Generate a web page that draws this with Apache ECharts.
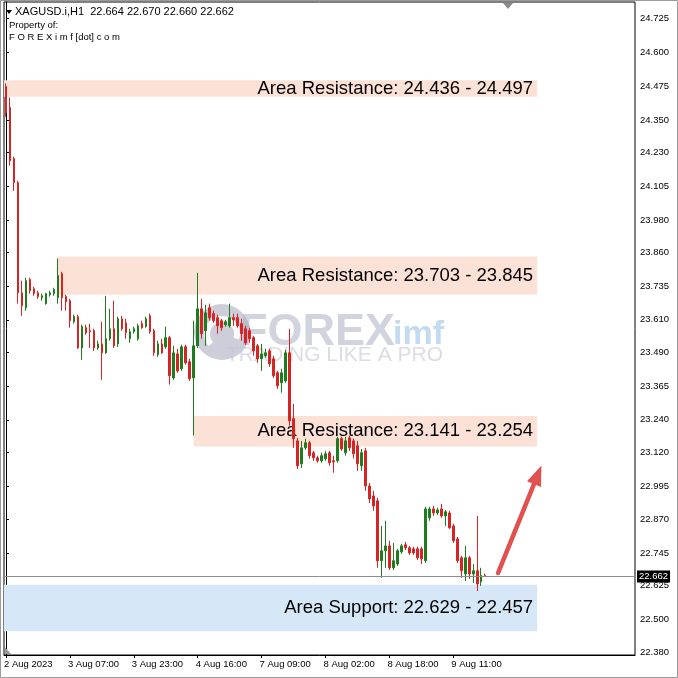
<!DOCTYPE html>
<html>
<head>
<meta charset="utf-8">
<script src="https://cdn.jsdelivr.net/npm/echarts@6/dist/echarts.min.js"></script>
<style>
html,body{margin:0;padding:0;background:#fff;}
#chart{width:678px;height:678px;}
</style>
</head>
<body>
<div id="chart"></div>
<script>
// ---- data (H1 candles XAGUSD) ----
const openVals = [
24.474,24.396,24.207,24.118,23.710,23.655,23.759,23.725,23.710,23.692,
23.670,23.703,23.707,23.692,23.781,23.696,23.681,23.603,23.622,23.506,
23.581,23.570,23.570,23.506,23.521,23.488,23.540,23.577,23.521,23.614,
23.599,23.540,23.566,23.540,23.596,23.585,23.625,23.570,23.481,23.521,
23.510,23.544,23.395,23.484,23.429,23.510,23.455,23.395,23.514,23.651,
23.570,23.655,23.633,23.618,23.607,23.592,23.588,23.618,23.618,23.596,
23.577,23.570,23.544,23.514,23.466,23.477,23.495,23.466,23.414,23.377,
23.384,23.488,23.244,23.162,23.077,23.136,23.155,23.118,23.099,23.088,
23.096,23.118,23.088,23.088,23.170,23.118,23.173,23.162,23.144,23.070,
23.125,22.995,22.958,22.940,22.718,22.755,22.773,22.692,22.706,22.751,
22.777,22.766,22.762,22.762,22.762,22.718,22.877,22.910,22.895,22.910,
22.884,22.895,22.847,22.799,22.729,22.669,22.729,22.669,22.681,22.640,
22.664];
const closeVals = [
24.377,24.199,24.118,23.710,23.662,23.755,23.718,23.707,23.696,23.699,
23.707,23.710,23.722,23.774,23.692,23.677,23.607,23.622,23.506,23.585,
23.562,23.566,23.506,23.521,23.488,23.540,23.577,23.514,23.614,23.577,
23.562,23.566,23.577,23.588,23.581,23.614,23.566,23.488,23.521,23.488,
23.544,23.403,23.488,23.421,23.510,23.451,23.392,23.514,23.651,23.559,
23.636,23.618,23.607,23.588,23.581,23.603,23.618,23.610,23.588,23.559,
23.525,23.540,23.495,23.466,23.484,23.488,23.447,23.403,23.366,23.414,
23.488,23.236,23.170,23.070,23.136,23.155,23.107,23.099,23.088,23.107,
23.114,23.081,23.084,23.170,23.132,23.162,23.136,23.114,23.077,23.118,
22.995,22.947,22.921,22.718,22.755,22.773,22.692,22.718,22.755,22.773,
22.766,22.747,22.747,22.729,22.725,22.910,22.910,22.895,22.906,22.884,
22.899,22.840,22.792,22.718,22.681,22.729,22.669,22.681,22.632,22.664,
22.662];
const lowVals = [
24.362,24.181,24.088,23.670,23.625,23.644,23.707,23.699,23.688,23.681,
23.666,23.696,23.699,23.670,23.644,23.644,23.581,23.596,23.503,23.462,
23.555,23.506,23.495,23.499,23.388,23.484,23.533,23.506,23.510,23.570,
23.540,23.525,23.559,23.533,23.577,23.581,23.559,23.477,23.473,23.484,
23.503,23.370,23.388,23.414,23.421,23.444,23.384,23.181,23.506,23.540,
23.514,23.607,23.599,23.559,23.570,23.585,23.581,23.588,23.581,23.533,
23.518,23.525,23.477,23.451,23.421,23.470,23.436,23.395,23.355,23.340,
23.377,23.218,23.136,23.058,23.062,23.129,23.096,23.088,23.081,23.081,
23.088,23.070,23.044,23.081,23.125,23.107,23.125,23.096,23.051,23.051,
22.977,22.932,22.903,22.692,22.655,22.692,22.684,22.684,22.699,22.744,
22.758,22.740,22.740,22.721,22.706,22.710,22.866,22.884,22.888,22.877,
22.847,22.836,22.784,22.710,22.655,22.643,22.651,22.636,22.606,22.625,
22.660];
const highVals = [
24.485,24.433,24.214,24.125,23.755,23.766,23.766,23.733,23.718,23.707,
23.710,23.718,23.729,23.837,23.788,23.703,23.688,23.629,23.629,23.592,
23.592,23.596,23.577,23.533,23.603,23.699,23.651,23.681,23.622,23.625,
23.614,23.577,23.585,23.596,23.607,23.622,23.633,23.577,23.533,23.540,
23.585,23.551,23.514,23.503,23.518,23.518,23.466,23.607,23.784,23.688,
23.666,23.670,23.644,23.629,23.614,23.610,23.670,23.633,23.633,23.614,
23.588,23.581,23.551,23.521,23.521,23.503,23.503,23.477,23.421,23.429,
23.499,23.577,23.299,23.173,23.162,23.170,23.162,23.125,23.107,23.118,
23.125,23.125,23.107,23.177,23.177,23.177,23.181,23.170,23.162,23.132,
23.136,23.006,22.977,22.951,22.847,22.866,22.792,22.784,22.762,22.781,
22.788,22.773,22.770,22.770,22.770,22.918,22.918,22.921,22.914,22.929,
22.906,22.903,22.855,22.806,22.736,22.773,22.736,22.706,22.884,22.692,
22.670];

// x axis: 158 hourly slots (121 filled), labels every 16 bars
const slotCount = 158;
const categories = Array.from({length: slotCount}, (_, i) => 'H' + i);
const xTickIdx  = [0, 16, 32, 48, 64, 80, 96, 112];
const xTickText = ['2 Aug 2023','3 Aug 07:00','3 Aug 23:00','4 Aug 16:00','7 Aug 09:00','8 Aug 02:00','8 Aug 18:00','9 Aug 11:00'];

// y axis tick labels (MT4 price scale)
const yTicks = [24.725,24.600,24.475,24.350,24.230,24.105,23.980,23.860,23.735,23.610,23.490,23.365,23.240,23.120,22.995,22.870,22.745,22.625,22.500,22.380];

// zones
const zoneLabels = ['Area Resistance: 24.436 - 24.497','Area Resistance: 23.703 - 23.845','Area Resistance: 23.141 - 23.254','Area Support: 22.629 - 22.457'];
const zoneHigh  = [24.497, 23.845, 23.254, 22.629];
const zoneLow   = [24.436, 23.703, 23.141, 22.457];
const zoneStart = [null, 13, 47, null];
const zoneEnd   = 133;
const zoneKind  = ['res','res','res','sup'];

const lastPrice = 22.662;
const headerText = 'XAGUSD.i,H1  22.664 22.670 22.660 22.662';

// arrow (bar position, price)
const arrowFrom = [123.2, 22.6725];
const arrowTo   = [133.14, 23.036];

// ---- build ----
const candleData = openVals.map((o, i) => [o, closeVals[i], lowVals[i], highVals[i]]);
const FONT = 'Liberation Sans';

const zoneData = zoneLabels.map((lab, i) => {
  const a = {yAxis: zoneHigh[i], name: lab,
    itemStyle: {color: zoneKind[i] === 'sup' ? '#d6e8f8' : '#fce2d6'}};
  if (zoneStart[i] !== null) a.xAxis = zoneStart[i];
  return [a, {xAxis: zoneEnd, yAxis: zoneLow[i]}];
});

const chart = echarts.init(document.getElementById('chart'), null, {renderer: 'canvas'});
chart.setOption({
  animation: false,
  backgroundColor: '#ffffff',
  grid: {left: 4, right: 43, top: 2, bottom: 23, show: true, borderColor: '#000', borderWidth: 1,
         backgroundColor: '#fff', containLabel: false, outerBoundsMode: 'none'},
  xAxis: [{
    type: 'category', data: categories, boundaryGap: true,
    axisLine: {show: true, lineStyle: {color: '#000'}},
    axisTick: {show: true, length: 3, alignWithLabel: true,
               interval: (i) => xTickIdx.indexOf(i) >= 0, lineStyle: {color: '#000'}},
    axisLabel: {interval: (i) => xTickIdx.indexOf(i) >= 0,
                formatter: (v, i) => { const k = xTickIdx.indexOf(i); return k >= 0 ? xTickText[k] : ''; },
                align: 'left', margin: 4, padding: [0, 0, 0, -2], color: '#000', fontSize: 9.5, fontFamily: FONT},
    splitLine: {show: false}
  }, {
    type: 'value', min: -0.5, max: slotCount - 0.5, show: false
  }],
  yAxis: [{
    type: 'value', position: 'right', min: 22.369, max: 24.787, scale: true,
    axisLine: {show: true, lineStyle: {color: '#000'}},
    axisTick: {show: true, length: 3, customValues: yTicks, lineStyle: {color: '#000'}},
    axisLabel: {customValues: yTicks, formatter: (v) => Number(v).toFixed(3), margin: 5,
                color: '#000', fontSize: 9.5, fontFamily: FONT},
    splitLine: {show: false}
  }],
  graphic: [
    {type: 'rect', z: 10, silent: true, shape: {x: 0.5, y: 0.5, width: 677, height: 677},
     style: {fill: null, stroke: '#9a9a9a', lineWidth: 1}},
    {type: 'polygon', z: 10, shape: {points: [[6,10],[12,10],[9,14]]}, style: {fill: '#000'}},
    {type: 'text', z: 10, x: 15, y: 6, style: {text: headerText, fill: '#000', font: '11px "Liberation Sans"'}},
    {type: 'text', z: 10, x: 9, y: 20, style: {text: 'Property of:', fill: '#000', font: '9.5px "Liberation Sans"'}},
    {type: 'text', z: 10, x: 9, y: 32, style: {text: 'F O R E X i m f [dot] c o m', fill: '#000', font: '9.5px "Liberation Sans"'}},
    {type: 'polygon', z: 10, shape: {points: [[503,3],[513,3],[508,9]]}, style: {fill: '#8a8a8a'}},
    {type: 'polygon', z: 10, shape: {points: [[5,647],[5,654],[11,654]]}, style: {fill: '#9a9a9a'}},
    // watermark
    {type: 'text', z: 1, silent: true, x: 226, y: 345, style: {text: 'TRADING LIKE A PRO', fill: 'rgba(175,178,195,0.45)', font: '21px "Liberation Sans"'}},
    {type: 'circle', z: 1, silent: true, shape: {cx: 222, cy: 332, r: 28}, style: {fill: 'rgba(196,198,212,0.85)'}},
    {type: 'arc', z: 1, silent: true, shape: {cx: 222, cy: 334, r: 15, startAngle: 2.4, endAngle: 6.6},
     style: {stroke: 'rgba(255,255,255,0.9)', lineWidth: 6, fill: null}},
    {type: 'text', z: 1, silent: true, x: 240, y: 310, style: {text: 'FOREX', fill: 'rgba(172,175,195,0.55)', font: 'bold 45px "Liberation Sans"'}},
    {type: 'text', z: 1, silent: true, x: 393, y: 318, style: {text: 'imf', fill: 'rgba(135,182,225,0.5)', font: 'bold 34px "Liberation Sans"'}}
  ],
  series: [
    {
      type: 'line', name: 'zones', data: [], z: 2, silent: true,
      markArea: {
        silent: true,
        label: {show: true, position: 'insideRight', distance: 4, color: '#000',
                fontSize: 18.5, fontFamily: FONT},
        data: zoneData
      }
    },
    {
      type: 'candlestick', name: 'XAGUSD', z: 3, data: candleData, barWidth: 2,
      itemStyle: {color: '#1e7c1e', color0: '#d42424', borderColor: '#1e7c1e', borderColor0: '#d42424', borderWidth: 1},
      markLine: {
        silent: true, symbol: ['none', 'none'],
        lineStyle: {color: '#8c8c8c', width: 1, type: 'solid'},
        label: {show: true, position: 'end', distance: 2, formatter: lastPrice.toFixed(3),
                backgroundColor: '#000', color: '#fff', padding: [1, 2], fontSize: 9.5, fontFamily: FONT},
        data: [{yAxis: lastPrice}]
      }
    },
    {
      type: 'line', name: 'arrow', xAxisIndex: 1, yAxisIndex: 0, data: [], z: 4, silent: true,
      markLine: {
        silent: true, symbol: ['none', 'triangle'], symbolSize: [15, 20],
        lineStyle: {color: '#e05150', width: 4.5, type: 'solid', cap: 'round'},
        label: {show: false},
        data: [[{coord: arrowFrom}, {coord: arrowTo}]]
      }
    }
  ]
});
</script>
</body>
</html>
